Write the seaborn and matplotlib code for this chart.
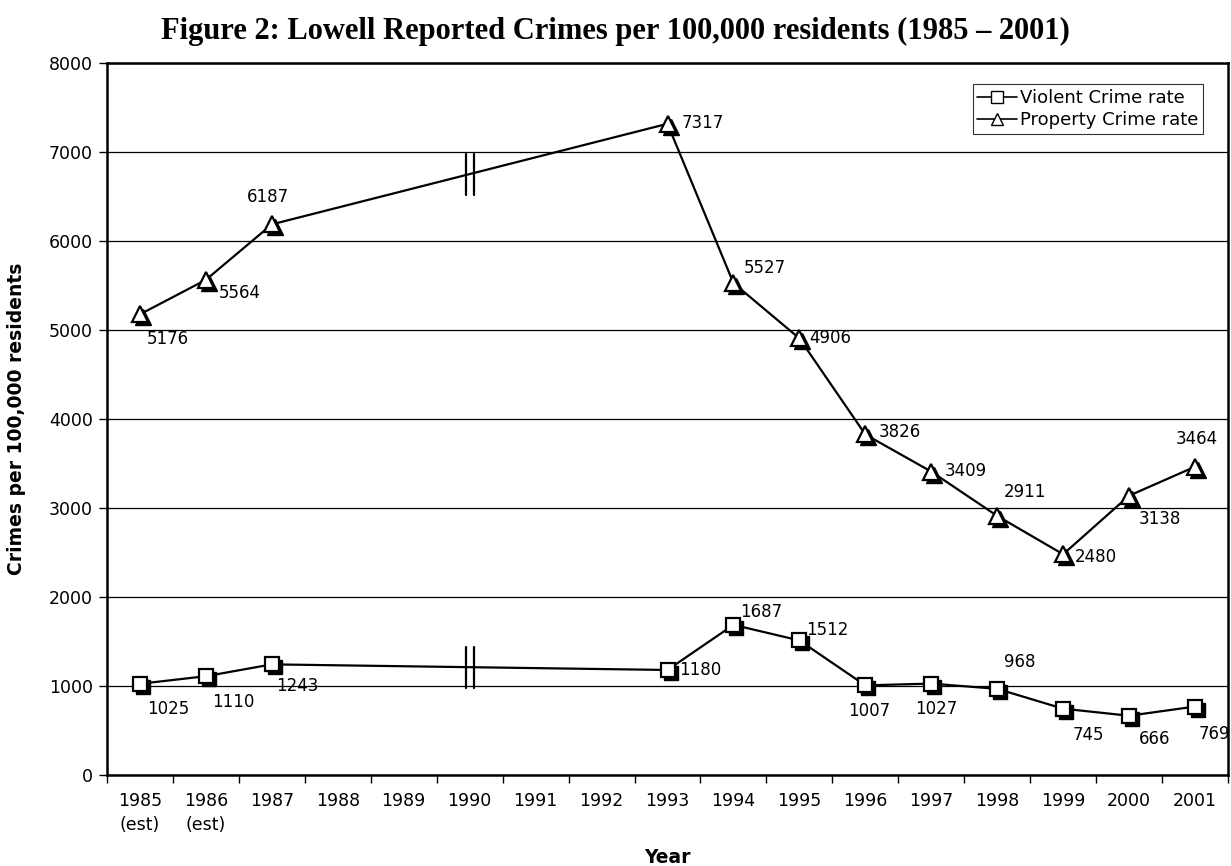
import matplotlib
matplotlib.use("Agg")
import matplotlib.pyplot as plt
from matplotlib.lines import Line2D
from matplotlib.transforms import offset_copy
import seaborn as sns
import pandas as pd
import numpy as np

# ---- data ----
year_labels = ["1985\n(est)", "1986\n(est)", "1987", "1988", "1989", "1990", "1991",
               "1992", "1993", "1994", "1995", "1996", "1997", "1998", "1999", "2000", "2001"]
data_years = [1985, 1986, 1987, 1993, 1994, 1995, 1996, 1997, 1998, 1999, 2000, 2001]
violent = [1025, 1110, 1243, 1180, 1687, 1512, 1007, 1027, 968, 745, 666, 769]
prop = [5176, 5564, 6187, 7317, 5527, 4906, 3826, 3409, 2911, 2480, 3138, 3464]
# label offsets in pixels (dx, dy), dy positive = up
violent_off = [(7, -25), (6, -26), (4, -22), (12, 0), (7, 13), (7, 10), (-17, -26),
               (-16, -25), (7, 27), (9, -26), (10, -23), (4, -27)]
prop_off = [(7, -25), (13, -13), (-25, 27), (14, 1), (10, 15), (10, 0), (13, 2),
            (13, 1), (7, 24), (12, -3), (10, -23), (-19, 28)]

first = 1985
pos = [y - first for y in data_years]
df = pd.DataFrame({"pos": pos, "violent": violent, "prop": prop})

sns.set_style("white")
plt.rcParams["font.family"] = ["DejaVu Sans"]
plt.rcParams["text.color"] = "black"
plt.rcParams["axes.labelcolor"] = "black"
plt.rcParams["xtick.color"] = "black"
plt.rcParams["ytick.color"] = "black"

fig = plt.figure(figsize=(12.31, 8.66), dpi=100)
ax = fig.add_axes([107 / 1231, 1 - 775 / 866, (1228 - 107) / 1231, (775 - 63) / 866])

for col, mk, ms in [("violent", "s", 10), ("prop", "^", 11)]:
    sns.lineplot(data=df, x="pos", y=col, ax=ax, color="black", linewidth=1.6,
                 zorder=2, legend=False)
    shadow_tr = offset_copy(ax.transData, fig=fig, x=3, y=-3, units="dots")
    ax.plot(df["pos"], df[col], linestyle="", marker=mk, markersize=ms,
            markerfacecolor="black", markeredgecolor="black", transform=shadow_tr, zorder=3)
    ax.plot(df["pos"], df[col], linestyle="", marker=mk, markersize=ms,
            markerfacecolor="white", markeredgecolor="black", markeredgewidth=1.6, zorder=4)

# value labels
for p, v, (dx, dy) in zip(pos, violent, violent_off):
    ax.annotate(str(v), (p, v), xytext=(dx * 0.72, dy * 0.72), textcoords="offset points",
                ha="left", va="center", fontsize=12, color="black", zorder=5)
for p, v, (dx, dy) in zip(pos, prop, prop_off):
    ax.annotate(str(v), (p, v), xytext=(dx * 0.72, dy * 0.72), textcoords="offset points",
                ha="left", va="center", fontsize=12, color="black", zorder=5)

# break marks at 1990
bx = 1990 - first
for vals in (violent, prop):
    mid = (vals[2] + vals[3]) / 2
    for xo in (-0.05, 0.07):
        ax.plot([bx + xo, bx + xo], [mid - 230, mid + 230], color="black", linewidth=1.6, zorder=5)

# axes styling
ax.set_ylim(0, 8000)
ax.set_xlim(-0.5, len(year_labels) - 0.5)
ax.set_yticks(np.arange(0, 8001, 1000))
ax.set_yticklabels([str(v) for v in range(0, 8001, 1000)], fontsize=12.5)
ax.set_xticks(np.arange(-0.5, len(year_labels), 1))
ax.set_xticklabels([])
ax.set_xticks(np.arange(len(year_labels)), minor=True)
ax.set_xticklabels(year_labels, minor=True, fontsize=12.5, linespacing=1.45)
ax.tick_params(axis="x", which="major", direction="out", length=6, width=1, color="black", bottom=True)
ax.tick_params(axis="x", which="minor", length=0, pad=12)
ax.tick_params(axis="y", direction="out", length=6, width=1, color="black", left=True, pad=4)
ax.yaxis.grid(True, color="black", linewidth=0.9)
ax.set_axisbelow(True)
for s in ax.spines.values():
    s.set_visible(True)
    s.set_color("black")
    s.set_linewidth(1.8)

ax.set_xlabel("Year", fontsize=13.5, fontweight="bold", labelpad=10)
ax.set_ylabel("Crimes per 100,000 residents", fontsize=13.5, fontweight="bold", labelpad=10)
ax.yaxis.set_label_coords(-(107 - 26) / (1228 - 107), 0.5)

fig.suptitle("Figure 2: Lowell Reported Crimes per 100,000 residents (1985 \u2013 2001)",
             x=0.5, y=0.98, fontsize=22, fontweight="bold", family="Liberation Serif")

handles = [
    Line2D([], [], color="black", linewidth=1.2, marker="s", markersize=9,
           markerfacecolor="white", markeredgecolor="black"),
    Line2D([], [], color="black", linewidth=1.2, marker="^", markersize=9,
           markerfacecolor="white", markeredgecolor="black"),
]
leg = ax.legend(handles, ["Violent Crime rate", "Property Crime rate"], loc="upper right",
                bbox_to_anchor=(0.978, 0.97), fontsize=13, frameon=True, fancybox=False,
                edgecolor="black", handlelength=2.2, handletextpad=0.2, borderpad=0.25,
                labelspacing=0.25, borderaxespad=0)
leg.get_frame().set_linewidth(0.8)

fig.savefig("out.png", dpi=100)
